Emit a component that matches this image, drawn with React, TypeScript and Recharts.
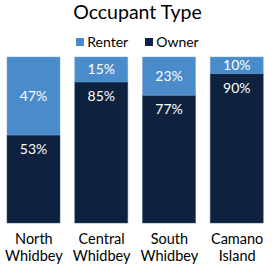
import React from 'react';
import { BarChart, Bar, XAxis, YAxis, LabelList } from 'recharts';

const regions = ['North Whidbey', 'Central Whidbey', 'South Whidbey', 'Camano Island'];
const renter = [47, 15, 23, 10];
const owner = [53, 85, 77, 90];

const RENTER_COLOR = '#4a8bcb';
const OWNER_COLOR = '#0e2240';
const FONT = 'Lato, "Liberation Sans", sans-serif';

const data = regions.map((name, i) => ({ name, renter: renter[i], owner: owner[i] }));

const fmt = (v: any) => `${v}%`;

const TwoLineTick = (props: any) => {
  const { x, y, payload } = props;
  const words = String(payload.value).split(' ');
  return (
    <g>
      {words.map((w, i) => (
        <text key={i} x={x} y={y + 13 + i * 17} textAnchor="middle" fill="#000" fontSize={14.5} fontFamily={FONT}>{w}</text>
      ))}
    </g>
  );
};

const LegendBox = () => (
  <div style={{ position: 'absolute', zIndex: 2, top: 33, left: 0, width: 275, display: 'flex', justifyContent: 'center', gap: 17, fontFamily: FONT, fontSize: 14, color: '#000' }}>
    {[['Renter', RENTER_COLOR], ['Owner', OWNER_COLOR]].map(([label, c]) => (
      <div key={label} style={{ display: 'flex', alignItems: 'center', gap: 3 }}>
        <span style={{ width: 8, height: 8, background: c, display: 'inline-block' }} />
        <span>{label}</span>
      </div>
    ))}
  </div>
);

export default function App() {
  return (
    <div style={{ position: 'relative', width: 275, height: 276, background: '#fff' }}>
      <style>{'body{margin:0}'}</style>
      <div style={{ position: 'absolute', zIndex: 2, top: 0, left: 0, width: 275, textAlign: 'center', fontFamily: FONT, fontSize: 19.5, lineHeight: '24px', color: '#000' }}>
        Occupant Type
      </div>
      <LegendBox />
      <BarChart width={275} height={276} data={data} margin={{ top: 57, right: 4, bottom: 0, left: 0 }} barSize={53}>
        <YAxis hide domain={[0, 100]} />
        <XAxis dataKey="name" axisLine={false} tickLine={false} tick={<TwoLineTick />} height={53} interval={0} />
        <Bar dataKey="owner" stackId="a" fill={OWNER_COLOR} stroke="#2c4f78" strokeWidth={0.5} isAnimationActive={false}>
          <LabelList dataKey="owner" position="insideTop" offset={9} fill="#fff" fontSize={14} fontFamily={FONT} formatter={fmt} />
        </Bar>
        <Bar dataKey="renter" stackId="a" fill={RENTER_COLOR} stroke="#6ea3d6" strokeWidth={0.5} isAnimationActive={false}>
          <LabelList dataKey="renter" position="center" fill="#fff" fontSize={14} fontFamily={FONT} formatter={fmt} />
        </Bar>
      </BarChart>
    </div>
  );
}
